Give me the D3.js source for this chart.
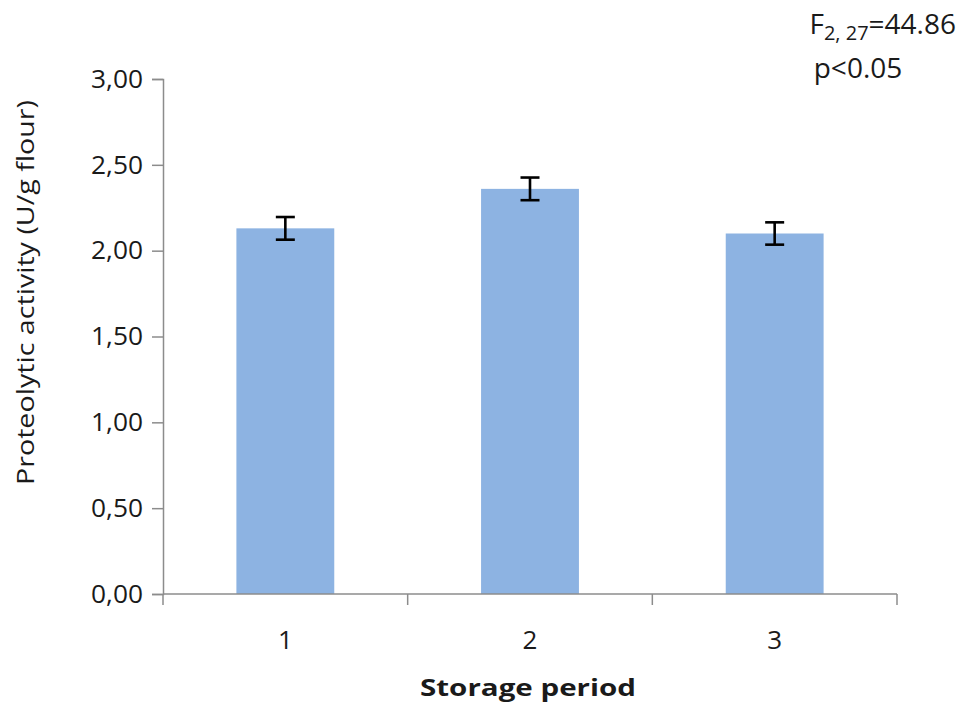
<!DOCTYPE html>
<html>
<head>
<meta charset="utf-8">
<script src="https://cdn.jsdelivr.net/npm/d3@7"></script>
<style>
  body { margin: 0; background: #fff; }
  svg { display: block; }
  text { font-family: "Open Sans", "Liberation Sans", sans-serif; fill: #1a1a1a; }
</style>
</head>
<body>
<svg id="chart" width="965" height="703"></svg>
<script>
// Proteolytic activity by storage period (means with error bars)
const categories = ["1", "2", "3"];
const meanValues = [2.13, 2.36, 2.10];
const errorValues = [0.066, 0.066, 0.065];
const yTicks = [0, 0.5, 1.0, 1.5, 2.0, 2.5, 3.0];

const svg = d3.select("#chart");
const plotLeft = 163, plotRight = 897, plotTop = 79, plotBottom = 594;

const x = d3.scaleBand().domain(categories).range([plotLeft, plotRight]).paddingInner(0.6).paddingOuter(0.3);
const xOuter = d3.scaleBand().domain(categories).range([plotLeft, plotRight]);
const y = d3.scaleLinear().domain([0, 3]).range([plotBottom, plotTop]);

const fmt = d => d3.format(".2f")(d).replace(".", ",");
const axisColor = "#8c8c8c";

// y axis
const yAxis = svg.append("g").attr("transform", `translate(${plotLeft},0)`)
  .call(d3.axisLeft(y).tickValues(yTicks).tickFormat(fmt).tickSize(11).tickPadding(9));
yAxis.select(".domain").attr("stroke", axisColor).attr("stroke-width", 1.5);
yAxis.selectAll(".tick line").attr("stroke", axisColor).attr("stroke-width", 1.5);
yAxis.selectAll(".tick text").style("font-size", "26px").attr("fill", "#1a1a1a")
  .attr("textLength", 52).attr("lengthAdjust", "spacingAndGlyphs");

// bars
svg.append("g").selectAll("rect").data(categories).join("rect")
  .attr("x", d => x(d))
  .attr("width", x.bandwidth())
  .attr("y", (d, i) => y(meanValues[i]))
  .attr("height", (d, i) => y(0) - y(meanValues[i]))
  .attr("fill", "#8db3e2");

// x axis with ticks between categories
const xg = svg.append("g");
xg.append("line").attr("x1", plotLeft).attr("x2", plotRight).attr("y1", plotBottom).attr("y2", plotBottom)
  .attr("stroke", axisColor).attr("stroke-width", 1.5);
xg.selectAll("line.sep").data(categories).join("line").attr("class", "sep")
  .attr("x1", d => xOuter(d) + xOuter.bandwidth()).attr("x2", d => xOuter(d) + xOuter.bandwidth())
  .attr("y1", plotBottom).attr("y2", plotBottom + 11)
  .attr("stroke", axisColor).attr("stroke-width", 1.5);
xg.append("line").attr("x1", plotLeft).attr("x2", plotLeft).attr("y1", plotBottom).attr("y2", plotBottom + 11)
  .attr("stroke", axisColor).attr("stroke-width", 1.5);
xg.selectAll("text").data(categories).join("text")
  .attr("x", d => xOuter(d) + xOuter.bandwidth() / 2)
  .attr("y", 649)
  .attr("text-anchor", "middle")
  .style("font-size", "26px")
  .text(d => d);

// error bars
const eb = svg.append("g").attr("stroke", "#000").attr("stroke-width", 2.6);
categories.forEach((c, i) => {
  const cx = x(c) + x.bandwidth() / 2;
  const y1 = y(meanValues[i] + errorValues[i]);
  const y2 = y(meanValues[i] - errorValues[i]);
  eb.append("line").attr("x1", cx).attr("x2", cx).attr("y1", y1).attr("y2", y2);
  eb.append("line").attr("x1", cx - 9.5).attr("x2", cx + 9.5).attr("y1", y1).attr("y2", y1);
  eb.append("line").attr("x1", cx - 9.5).attr("x2", cx + 9.5).attr("y1", y2).attr("y2", y2);
});

// axis titles
svg.append("text")
  .attr("x", 420).attr("y", 696)
  .attr("textLength", 216).attr("lengthAdjust", "spacingAndGlyphs")
  .style("font-size", "24px").style("font-weight", "bold")
  .text("Storage period");

svg.append("text")
  .attr("transform", "translate(34,485) rotate(-90)")
  .attr("textLength", 385).attr("lengthAdjust", "spacingAndGlyphs")
  .style("font-size", "24px")
  .text("Proteolytic activity (U/g flour)");

// statistics annotation
const ann = svg.append("text").attr("x", 956).attr("y", 34).attr("text-anchor", "end").style("font-size", "28px");
ann.append("tspan").text("F");
ann.append("tspan").attr("dy", 6).style("font-size", "20px").text("2, 27");
ann.append("tspan").attr("dy", -6).text("=44.86");
svg.append("text").attr("x", 858).attr("y", 78).attr("text-anchor", "middle").style("font-size", "28px").text("p<0.05");
</script>
</body>
</html>
